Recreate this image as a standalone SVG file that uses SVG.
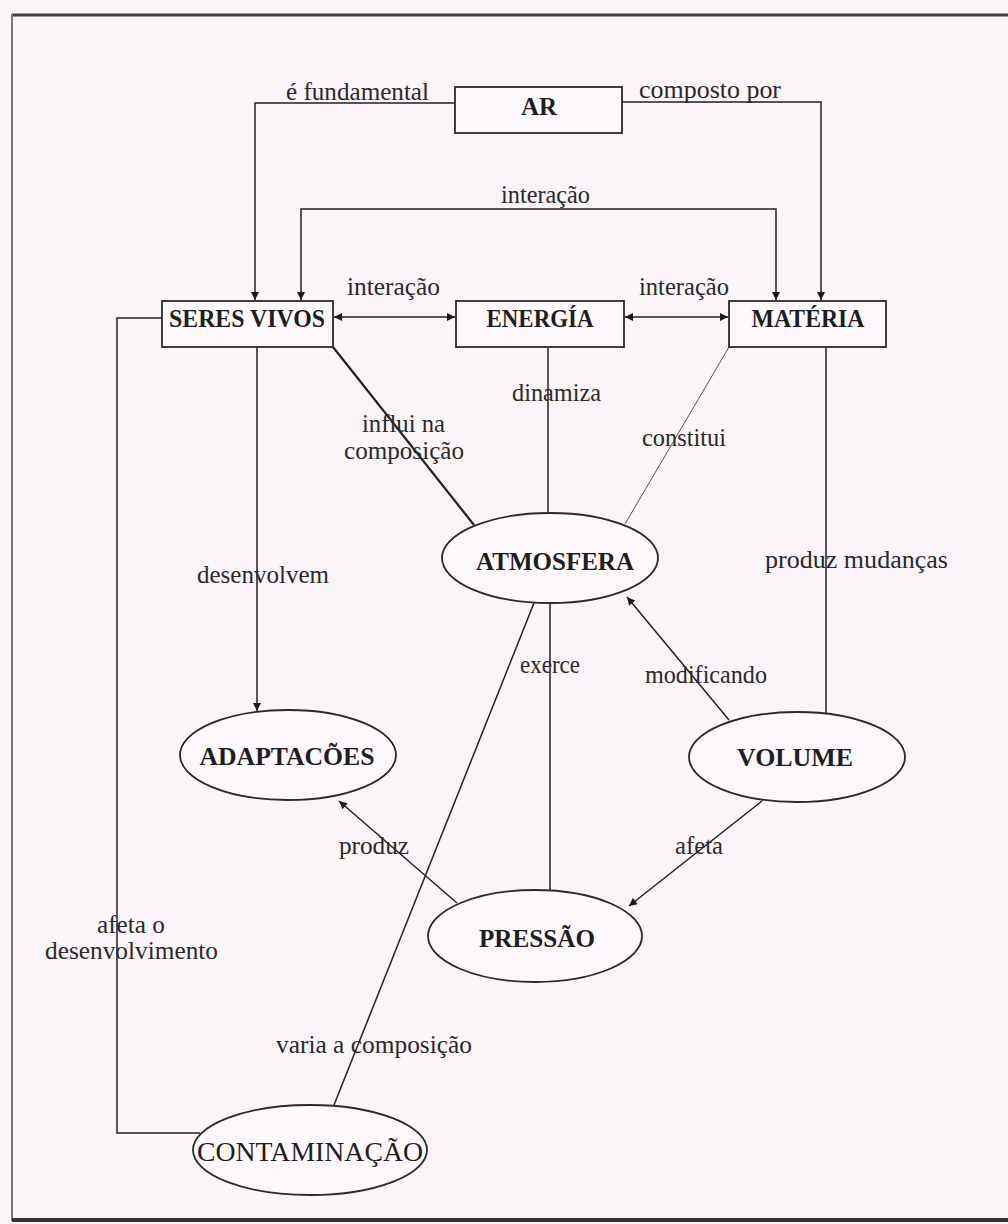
<svg xmlns="http://www.w3.org/2000/svg" width="1008" height="1224" viewBox="0 0 1008 1224">
<defs>
<style>
.bg{fill:#fbf4f8}
.box{fill:#fdf8fb;stroke:#2a2a2a;stroke-width:1.8}
.ell{fill:#fdf8fb;stroke:#2a2a2a;stroke-width:1.8}
.nt{font-family:"Liberation Serif","Times New Roman",serif;font-weight:bold;font-size:25px;fill:#1e1e1e;text-anchor:middle}
.nr{font-family:"Liberation Serif","Times New Roman",serif;font-size:27px;fill:#1e1e1e;text-anchor:middle}
.lb{font-family:"Liberation Serif","Times New Roman",serif;font-size:25px;fill:#2a2a2a}
.c{fill:none;stroke:#222;stroke-width:1.5}
.thin{fill:none;stroke:#555;stroke-width:1}
.thick{fill:none;stroke:#222;stroke-width:2.2}
</style>
<marker id="ah" viewBox="0 0 10 10" refX="10" refY="5" markerWidth="9" markerHeight="8" markerUnits="userSpaceOnUse" orient="auto-start-reverse">
<path d="M0,0 L10,5 L0,10 z" fill="#1a1a1a"/>
</marker>
</defs>
<rect class="bg" x="0" y="0" width="1008" height="1224"/>
<g id="frame">
<line x1="12" y1="15" x2="1008" y2="15" stroke="#454545" stroke-width="3"/>
<line x1="12" y1="14" x2="12" y2="1221" stroke="#777" stroke-width="2"/>
<line x1="12" y1="1220" x2="1008" y2="1220" stroke="#333" stroke-width="4"/>
</g>
<g id="connectors">
<path class="c" d="M455,103 H255 V300" marker-end="url(#ah)"/>
<path class="c" d="M622,102 H821 V300" marker-end="url(#ah)"/>
<path class="c" d="M301,300 V209 H776 V300" marker-start="url(#ah)" marker-end="url(#ah)"/>
<path class="c" d="M334,317 H455" marker-start="url(#ah)" marker-end="url(#ah)"/>
<path class="c" d="M625,317 H728" marker-start="url(#ah)" marker-end="url(#ah)"/>
<path class="c" d="M162,318 H117 V1133 H200"/>
<path class="c" d="M257,347 V711" marker-end="url(#ah)"/>
<path class="thick" d="M333,347 L474,525"/>
<path class="c" d="M548,347 V513"/>
<path class="thin" d="M729,347 L625,524"/>
<path class="c" d="M826,347 V714"/>
<path class="c" d="M729,720 L627,597" marker-end="url(#ah)"/>
<path class="c" d="M550,603 V890"/>
<path class="c" d="M334,1105 L534,603"/>
<path class="c" d="M457,903 L339,801" marker-end="url(#ah)"/>
<path class="c" d="M762,801 L629,906" marker-end="url(#ah)"/>
</g>
<g id="labels">
<text class="lb" x="286" y="100" textLength="143" lengthAdjust="spacingAndGlyphs">é fundamental</text>
<text class="lb" x="639" y="98" textLength="142" lengthAdjust="spacingAndGlyphs">composto por</text>
<text class="lb" x="501" y="203" textLength="89" lengthAdjust="spacingAndGlyphs">interação</text>
<text class="lb" x="347" y="295" textLength="93" lengthAdjust="spacingAndGlyphs">interação</text>
<text class="lb" x="639" y="295" textLength="90" lengthAdjust="spacingAndGlyphs">interação</text>
<text class="lb" x="362" y="432" textLength="83" lengthAdjust="spacingAndGlyphs">influi na</text>
<text class="lb" x="344" y="459" textLength="120" lengthAdjust="spacingAndGlyphs">composição</text>
<text class="lb" x="512" y="401" textLength="89" lengthAdjust="spacingAndGlyphs">dinamiza</text>
<text class="lb" x="642" y="446" textLength="84" lengthAdjust="spacingAndGlyphs">constitui</text>
<text class="lb" x="197" y="583" textLength="132" lengthAdjust="spacingAndGlyphs">desenvolvem</text>
<text class="lb" x="765" y="568" textLength="183" lengthAdjust="spacingAndGlyphs">produz mudanças</text>
<text class="lb" x="520" y="673" textLength="60" lengthAdjust="spacingAndGlyphs">exerce</text>
<text class="lb" x="645" y="683" textLength="122" lengthAdjust="spacingAndGlyphs">modificando</text>
<text class="lb" x="339" y="854" textLength="70" lengthAdjust="spacingAndGlyphs">produz</text>
<text class="lb" x="675" y="854" textLength="48" lengthAdjust="spacingAndGlyphs">afeta</text>
<text class="lb" x="97" y="933" textLength="68" lengthAdjust="spacingAndGlyphs">afeta o</text>
<text class="lb" x="45" y="959" textLength="173" lengthAdjust="spacingAndGlyphs">desenvolvimento</text>
<text class="lb" x="276" y="1053" textLength="196" lengthAdjust="spacingAndGlyphs">varia a composição</text>
</g>
<g id="node-ar">
<rect class="box" x="455" y="87" width="167" height="46"/>
<text class="nt" x="539" y="115" textLength="36" lengthAdjust="spacingAndGlyphs">AR</text>
</g>
<g id="node-seres-vivos">
<rect class="box" x="162" y="301" width="171" height="46"/>
<text class="nt" x="247" y="327" textLength="156" lengthAdjust="spacingAndGlyphs">SERES VIVOS</text>
</g>
<g id="node-energia">
<rect class="box" x="456" y="301" width="168" height="46"/>
<text class="nt" x="540" y="327" textLength="107" lengthAdjust="spacingAndGlyphs">ENERGÍA</text>
</g>
<g id="node-materia">
<rect class="box" x="729" y="301" width="157" height="46"/>
<text class="nt" x="808" y="327" textLength="113" lengthAdjust="spacingAndGlyphs">MATÉRIA</text>
</g>
<g id="node-atmosfera">
<ellipse class="ell" cx="550" cy="558" rx="108" ry="45"/>
<text class="nt" x="555" y="570" textLength="158" lengthAdjust="spacingAndGlyphs">ATMOSFERA</text>
</g>
<g id="node-adaptacoes">
<ellipse class="ell" cx="288" cy="755" rx="108" ry="45"/>
<text class="nt" x="287" y="765" textLength="175" lengthAdjust="spacingAndGlyphs">ADAPTACÕES</text>
</g>
<g id="node-volume">
<ellipse class="ell" cx="797" cy="757" rx="108" ry="45"/>
<text class="nt" x="795" y="766" textLength="116" lengthAdjust="spacingAndGlyphs">VOLUME</text>
</g>
<g id="node-pressao">
<ellipse class="ell" cx="535" cy="936" rx="107" ry="46"/>
<text class="nt" x="537" y="947" textLength="116" lengthAdjust="spacingAndGlyphs">PRESSÃO</text>
</g>
<g id="node-contaminacao">
<ellipse class="ell" cx="310" cy="1150" rx="117" ry="45"/>
<text class="nr" x="310" y="1161" textLength="226" lengthAdjust="spacingAndGlyphs">CONTAMINAÇÃO</text>
</g>
</svg>
